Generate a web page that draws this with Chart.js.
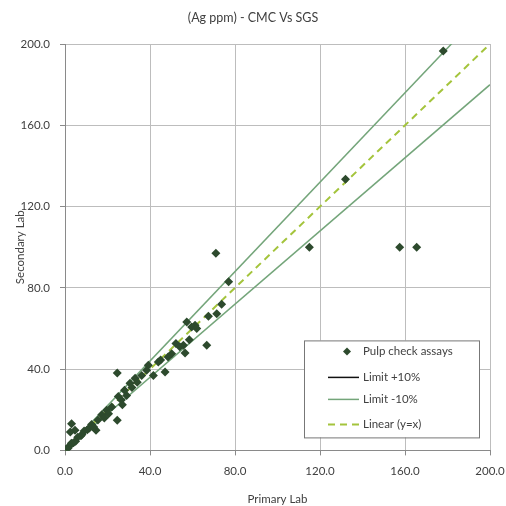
<!DOCTYPE html>
<html>
<head>
<meta charset="utf-8">
<title>(Ag ppm) - CMC Vs SGS</title>
<script src="https://cdn.jsdelivr.net/npm/chart.js@4.4.1/dist/chart.umd.min.js"></script>
<style>
  html, body { margin: 0; padding: 0; background: #fff; }
  #wrap { width: 506px; height: 506px; position: relative; }
</style>
</head>
<body>
<div id="wrap"><canvas id="agChart"></canvas></div>
<script>
// Ag ppm pulp check assays
const primaryLab = [
  178, 132, 115, 157.5, 165.5, 71, 77, 73.7, 71.4, 67.5,
  57.3, 61.2, 59.6, 58.5, 66.7, 55.7, 52.2, 56.5, 50.2, 43.9,
  39.2, 38.4, 41.6, 47.1, 36.1, 33, 30.6, 28, 25.1, 24.6,
  24.6, 22, 19.6, 17.3, 15.5, 14.6, 12.5, 10.5, 9, 7.5,
  6, 5, 4, 3, 2, 1.5, 1, 0.5, 3.1, 4.7,
  2.5, 13.5, 20.5, 26.5, 29, 31.5, 34, 27, 18.5, 11.5,
  8, 45, 48.5, 62, 54
];
const secondaryLab = [
  196.5, 133.5, 100, 100, 100, 97, 83, 71.9, 67.3, 66,
  63.2, 61.6, 60.7, 54.5, 51.7, 51.7, 52.6, 47.9, 47.6, 43.5,
  41.9, 39.4, 36.9, 38.6, 36.9, 35.5, 33, 29.6, 26.5, 38.1,
  14.8, 21.3, 19.7, 17.5, 15, 9.9, 12.8, 10.2, 9.5, 7.2,
  6.5, 4.5, 3.8, 3.5, 2, 1.2, 0.8, 0.5, 13.1, 9.9,
  9, 11.5, 18, 24.8, 27, 31, 33.5, 22.5, 16, 11,
  7.8, 44.5, 46, 60, 51
];

// reference lines: end points
const limitPlusX = [0, 200];
const limitPlusY = [0, 220];
const limitMinusX = [0, 200];
const limitMinusY = [0, 180];
const linearX = [0, 200];
const linearY = [0, 200];

const axisTicks = [0, 40, 80, 120, 160, 200];

const FONT = 'Lato, "Open Sans", sans-serif';
const TEXT = '#404040';
const POINT = '#2d4a2d';
const LIMIT = '#74a57a';
const LINEAR = '#a4c43c';

const pairs = (xs, ys) => xs.map((x, i) => ({ x: x, y: ys[i] }));

// legend drawn inside the plot, lower right
const insideLegend = {
  id: 'insideLegend',
  afterDraw(chart) {
    const ctx = chart.ctx;
    const a = chart.chartArea;
    const bx = a.right - 186, by = a.bottom - 110, bw = 175, bh = 97;
    ctx.save();
    ctx.fillStyle = '#fff';
    ctx.fillRect(bx, by, bw, bh);
    ctx.strokeStyle = '#777';
    ctx.lineWidth = 1;
    ctx.strokeRect(bx + 0.5, by + 0.5, bw, bh);

    ctx.font = '11.5px ' + FONT;
    ctx.textBaseline = 'middle';
    const tx = bx + 59;
    const rows = [
      { label: 'Pulp check assays', y: by + 11 },
      { label: 'Limit +10%', y: by + 37, color: '#111', dash: [] },
      { label: 'Limit -10%', y: by + 59, color: LIMIT, dash: [] },
      { label: 'Linear (y=x)', y: by + 84, color: LINEAR, dash: [7, 5] }
    ];
    // marker
    const mx = bx + 43, my = rows[0].y, r = 4;
    ctx.fillStyle = POINT;
    ctx.beginPath();
    ctx.moveTo(mx, my - r); ctx.lineTo(mx + r, my);
    ctx.lineTo(mx, my + r); ctx.lineTo(mx - r, my);
    ctx.closePath(); ctx.fill();
    rows.forEach((row, i) => {
      if (i > 0) {
        ctx.strokeStyle = row.color;
        ctx.lineWidth = i === 3 ? 2 : 1.5;
        ctx.setLineDash(row.dash);
        ctx.beginPath();
        ctx.moveTo(bx + 24, row.y);
        ctx.lineTo(bx + 55, row.y);
        ctx.stroke();
        ctx.setLineDash([]);
      }
      ctx.fillStyle = TEXT;
      ctx.fillText(row.label, tx, row.y);
    });
    ctx.restore();
  }
};

const axisCommon = {
  type: 'linear',
  min: 0,
  max: 200,
  afterBuildTicks: (scale) => { scale.ticks = axisTicks.map(v => ({ value: v })); },
  grid: {
    color: '#bdbdbd',
    lineWidth: 1,
    drawTicks: true,
    tickLength: 5,
    tickColor: '#8a8a8a'
  },
  border: { color: '#8a8a8a', width: 1 }
};

new Chart(document.getElementById('agChart'), {
  type: 'scatter',
  data: {
    datasets: [
      {
        label: 'Pulp check assays',
        data: pairs(primaryLab, secondaryLab),
        pointStyle: 'rectRot',
        pointRadius: 4.5,
        backgroundColor: POINT,
        borderColor: POINT,
        borderWidth: 0,
        order: 0
      },
      {
        label: 'Limit +10%',
        data: pairs(limitPlusX, limitPlusY),
        showLine: true,
        borderColor: LIMIT,
        borderWidth: 1.5,
        pointRadius: 0,
        order: 2
      },
      {
        label: 'Limit -10%',
        data: pairs(limitMinusX, limitMinusY),
        showLine: true,
        borderColor: LIMIT,
        borderWidth: 1.5,
        pointRadius: 0,
        order: 2
      },
      {
        label: 'Linear (y=x)',
        data: pairs(linearX, linearY),
        showLine: true,
        borderColor: LINEAR,
        borderDash: [7, 5],
        borderWidth: 2,
        pointRadius: 0,
        order: 1
      }
    ]
  },
  options: {
    responsive: true,
    maintainAspectRatio: false,
    animation: false,
    layout: { padding: { top: 0, right: 0, bottom: 0, left: 0 } },
    plugins: {
      legend: { display: false },
      tooltip: { enabled: false },
      title: {
        display: true,
        text: '(Ag ppm) - CMC Vs SGS',
        color: TEXT,
        font: { family: FONT, size: 12.5, weight: 'normal' },
        padding: { top: 10, bottom: 19 }
      }
    },
    scales: {
      x: Object.assign({}, axisCommon, {
        position: 'bottom',
        afterFit: (scale) => { scale.paddingRight = 16; scale.paddingLeft = 0; },
        ticks: {
          color: TEXT,
          font: { family: FONT, size: 11.5 },
          padding: 9,
          maxRotation: 0,
          callback: (v) => Number(v).toFixed(1)
        },
        title: {
          display: true,
          text: 'Primary Lab',
          color: TEXT,
          font: { family: FONT, size: 11.5 },
          padding: { top: 5, bottom: 0 }
        }
      }),
      y: Object.assign({}, axisCommon, {
        position: 'left',
        afterFit: (scale) => { scale.width = 65; },
        ticks: {
          color: TEXT,
          font: { family: FONT, size: 11.5 },
          padding: 10,
          callback: (v) => Number(v).toFixed(1)
        },
        title: {
          display: true,
          text: 'Secondary Lab',
          color: TEXT,
          font: { family: FONT, size: 11.5 },
          padding: { top: 13, bottom: 0 }
        }
      })
    }
  },
  plugins: [insideLegend]
});
</script>
</body>
</html>
